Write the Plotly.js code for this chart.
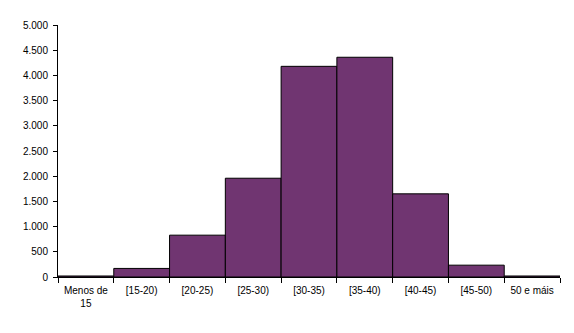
<!DOCTYPE html>
<html>
<head>
<meta charset="utf-8">
<script src="https://cdn.plot.ly/plotly-3.0.1.min.js"></script>
<style>html,body{margin:0;padding:0;background:#fff;}#chart{width:574px;height:333px;}</style>
</head>
<body>
<div id="chart"></div>
<script>
const categories = ["Menos de<br>15", "[15-20)", "[20-25)", "[25-30)", "[30-35)", "[35-40)", "[40-45)", "[45-50)", "50 e máis"];
const values = [20, 170, 830, 1960, 4180, 4360, 1650, 235, 20];
const yTicks = [0, 500, 1000, 1500, 2000, 2500, 3000, 3500, 4000, 4500, 5000];

const trace = {
  type: "bar",
  x: categories,
  y: values,
  marker: { color: "#703571", line: { color: "#000000", width: 1 } },
  hoverinfo: "x+y"
};

const layout = {
  width: 574,
  height: 333,
  margin: { l: 58, r: 14, t: 25, b: 56 },
  paper_bgcolor: "#ffffff",
  plot_bgcolor: "#ffffff",
  bargap: 0,
  separators: ",.",
  showlegend: false,
  font: { family: "Liberation Sans, Arial, sans-serif", size: 10, color: "#000000" },
  xaxis: {
    type: "category",
    showline: true,
    linecolor: "#000000",
    linewidth: 1,
    ticks: "outside",
    tickson: "boundaries",
    ticklen: 5,
    tickcolor: "#000000",
    ticklabelstandoff: 4,
    showgrid: false,
    zeroline: false,
    tickfont: { size: 10, color: "#000000" }
  },
  yaxis: {
    range: [0, 5000],
    tickvals: yTicks,
    tickformat: ",d",
    showline: true,
    linecolor: "#000000",
    linewidth: 1,
    ticks: "outside",
    ticklen: 4,
    tickcolor: "#000000",
    ticklabelstandoff: 3,
    showgrid: false,
    zeroline: false,
    tickfont: { size: 10, color: "#000000" }
  }
};

Plotly.newPlot("chart", [trace], layout, { staticPlot: true, displayModeBar: false });
</script>
</body>
</html>
